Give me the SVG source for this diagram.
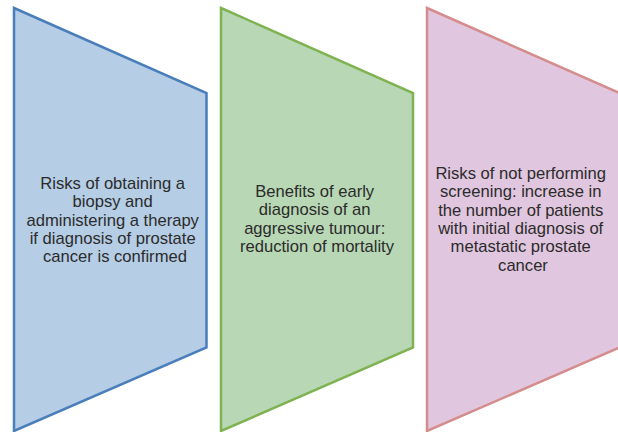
<svg xmlns="http://www.w3.org/2000/svg" width="618" height="432" viewBox="0 0 618 432">
  <style>
    .shape { stroke-width: 2.5; stroke-linejoin: miter; }
    .label { font-family: "Liberation Sans", Arial, sans-serif; font-size: 16.6px; fill: #2b2b2b; text-anchor: middle; }
  </style>
  <rect width="618" height="432" fill="#ffffff"/>

  <g id="risks-biopsy">
    <polygon class="shape" points="14,8 206.5,93 206.5,347.5 14,431" fill="#B5CDE5" stroke="#4A7EBB"/>
    <text class="label">
      <tspan x="115" y="189">Risks of obtaining a</tspan>
      <tspan x="115" y="207.3">biopsy and</tspan>
      <tspan x="115" y="225.6">administering a therapy</tspan>
      <tspan x="115" y="243.9">if diagnosis of prostate</tspan>
      <tspan x="115" y="262.2">cancer is confirmed</tspan>
    </text>
  </g>

  <g id="benefits-early-diagnosis">
    <polygon class="shape" points="221,8 413,93 413,347.5 221,431" fill="#B8D7B4" stroke="#7FB352"/>
    <text class="label">
      <tspan x="317" y="197">Benefits of early</tspan>
      <tspan x="317" y="215.3">diagnosis of an</tspan>
      <tspan x="317" y="233.6">aggressive tumour:</tspan>
      <tspan x="317" y="251.9">reduction of mortality</tspan>
    </text>
  </g>

  <g id="risks-no-screening">
    <polygon class="shape" points="427,8 619.5,93 619.5,347.5 427,431" fill="#E0C6DE" stroke="#D48C8C" stroke-width="2"/>
    <text class="label">
      <tspan x="523" y="179">Risks of not performing</tspan>
      <tspan x="523" y="197.3">screening: increase in</tspan>
      <tspan x="523" y="215.6">the number of patients</tspan>
      <tspan x="523" y="233.9">with initial diagnosis of</tspan>
      <tspan x="523" y="252.2">metastatic prostate</tspan>
      <tspan x="523" y="270.5">cancer</tspan>
    </text>
  </g>

  <g id="connectors"></g>
</svg>
